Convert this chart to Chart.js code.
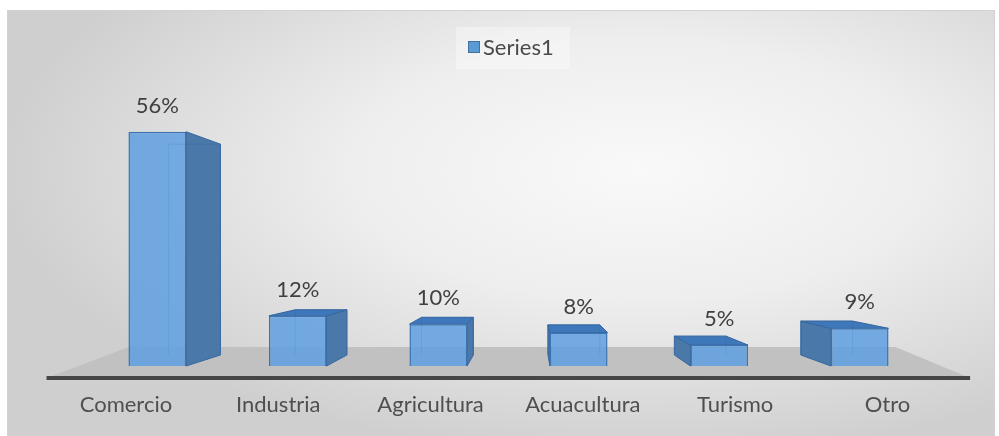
<!DOCTYPE html>
<html>
<head>
<meta charset="utf-8">
<script src="https://cdn.jsdelivr.net/npm/chart.js@4.4.1/dist/chart.umd.min.js"></script>
<style>
    html, body { margin: 0; padding: 0; background: #fff; }
    #wrap { width: 999px; height: 436px; position: relative; }
</style>
</head>
<body>
<div id="wrap"><canvas id="sectorChart"></canvas></div>
<script>
const categories = ['Comercio', 'Industria', 'Agricultura', 'Acuacultura', 'Turismo', 'Otro'];
const seriesName = 'Series1';
const seriesValues = [56, 12, 10, 8, 5, 9];
const yMin = 0;
const yMax = 60;

// perspective of the 3D look: vanishing point and depth factors (x, y)
const view = {
    vx: 530, vy: 256,
    barBack: [0.9, 0.9],
    floorFront: [1.084, 1.109],
    floorBack: [0.9, 0.827]
};

function proj(x, y, f) {
    return [view.vx + f[0] * (x - view.vx), view.vy + f[1] * (y - view.vy)];
}

function poly(ctx, pts, fill, stroke) {
    ctx.beginPath();
    pts.forEach((p, i) => i ? ctx.lineTo(p[0], p[1]) : ctx.moveTo(p[0], p[1]));
    ctx.closePath();
    if (fill) { ctx.fillStyle = fill; ctx.fill(); }
    if (stroke) { ctx.strokeStyle = stroke; ctx.stroke(); }
}

// panel background with the soft grey gradient
const panelPlugin = {
    id: 'panel',
    beforeDraw(chart) {
        const ctx = chart.ctx;
        ctx.save();
        ctx.fillStyle = '#ffffff';
        ctx.fillRect(0, 0, chart.width, chart.height);
        ctx.beginPath();
        ctx.rect(7, 10, 988, 430);
        ctx.clip();
        ctx.translate(640, 170);
        ctx.scale(1, 0.45);
        const g = ctx.createRadialGradient(0, 0, 0, 0, 0, 640);
        g.addColorStop(0, '#f9f9f9');
        g.addColorStop(0.45, '#eeeeee');
        g.addColorStop(1, '#cfcfcf');
        ctx.fillStyle = g;
        ctx.fillRect(-1400, -1400, 2800, 2800);
        ctx.restore();
        ctx.save();
        ctx.strokeStyle = '#d2d2d2';
        ctx.lineWidth = 1;
        ctx.strokeRect(7.5, 10.5, 987, 430);
        ctx.restore();
    }
};

// floor, side and top faces, value labels and legend
const box3dPlugin = {
    id: 'box3d',
    afterLayout(chart) {
        const area = chart.chartArea;
        const xl = chart.scales.xl;
        const y0 = chart.scales.y.getPixelForValue(0);
        const left = proj(area.left, y0, view.floorFront)[0];
        const right = proj(area.right, y0, view.floorFront)[0];
        const top = proj(area.left, y0, view.floorFront)[1];
        const h = xl.height;
        xl.left = left; xl.right = right; xl.width = right - left;
        xl.top = top; xl.bottom = top + h;
        xl.configure();
    },
    beforeDatasetsDraw(chart) {
        const ctx = chart.ctx, area = chart.chartArea;
        const y0 = chart.scales.y.getPixelForValue(0);
        const l = area.left - 3, r = area.right + 6;
        const ff = view.floorFront, fb = view.floorBack, bk = view.barBack;
        ctx.save();
        poly(ctx, [proj(l, y0, ff), proj(r, y0, ff), proj(r, y0, fb), proj(l, y0, fb)], '#c1c1c1');
        const a = proj(l, y0, ff), b = proj(r, y0, ff);
        ctx.lineWidth = 4;
        ctx.strokeStyle = '#464646';
        ctx.beginPath();
        ctx.moveTo(a[0], a[1]);
        ctx.lineTo(b[0], b[1]);
        ctx.stroke();

        ctx.lineWidth = 1;
        chart.getDatasetMeta(0).data.forEach(bar => {
            const {x, y, base, width} = bar.getProps(['x', 'y', 'base', 'width'], true);
            const x0 = x - width / 2, x1 = x + width / 2;
            const side = x < view.vx ? x1 : x0;
            poly(ctx, [[side, y], [side, base], proj(side, base, bk), proj(side, y, bk)], '#4a78a9', '#36679e');
            if (y > view.vy) {
                poly(ctx, [[x0, y], [x1, y], proj(x1, y, bk), proj(x0, y, bk)], '#3f77bb', '#36679e');
            }
            // back edges seen through the front face
            const p0 = proj(x0, y, bk), p1 = proj(x1, y, bk), q0 = proj(x0, base, bk), q1 = proj(x1, base, bk);
            ctx.strokeStyle = 'rgba(60,110,170,0.6)';
            ctx.beginPath();
            ctx.moveTo(q0[0], q0[1]); ctx.lineTo(p0[0], p0[1]); ctx.lineTo(p1[0], p1[1]); ctx.lineTo(q1[0], q1[1]);
            ctx.stroke();
        });
        ctx.restore();
    },
    afterDatasetsDraw(chart) {
        const ctx = chart.ctx;
        const ds = chart.data.datasets[0];
        ctx.save();
        ctx.font = '22px Lato';
        ctx.fillStyle = '#404040';
        ctx.textAlign = 'center';
        ctx.textBaseline = 'middle';
        chart.getDatasetMeta(0).data.forEach((bar, i) => {
            ctx.fillText(ds.data[i] + '%', bar.x, bar.y - 26);
        });

        // legend
        const lx = 468, ly = 47;
        ctx.fillStyle = 'rgba(255,255,255,0.35)';
        ctx.fillRect(456, 27, 114, 42);
        ctx.fillStyle = '#5b9bd5';
        ctx.strokeStyle = '#41719c';
        ctx.lineWidth = 1;
        ctx.fillRect(lx, ly - 6, 12, 12);
        ctx.strokeRect(lx + 0.5, ly - 5.5, 11, 11);
        ctx.fillStyle = '#4a4a4a';
        ctx.textAlign = 'left';
        ctx.fillText(ds.label, lx + 15, ly + 1);
        ctx.restore();
    }
};

Chart.defaults.font.family = 'Lato';

new Chart(document.getElementById('sectorChart'), {
    type: 'bar',
    data: {
        labels: categories,
        datasets: [{
            label: seriesName,
            data: seriesValues,
            xAxisID: 'x',
            yAxisID: 'y',
            backgroundColor: 'rgba(96,160,224,0.86)',
            borderColor: '#3e73b2',
            borderWidth: 1.5,
            barPercentage: 0.41,
            categoryPercentage: 1
        }]
    },
    options: {
        responsive: true,
        maintainAspectRatio: false,
        animation: false,
        layout: {
            padding: { left: 87, right: 69, top: 115, bottom: 15.6 }
        },
        plugins: {
            legend: { display: false },
            tooltip: { enabled: false }
        },
        scales: {
            x: {
                type: 'category',
                display: false,
                offset: true
            },
            xl: {
                type: 'category',
                labels: categories,
                position: 'bottom',
                offset: true,
                grid: { display: false, drawTicks: false },
                border: { display: false },
                ticks: {
                    color: '#4f4f4f',
                    font: { size: 22 },
                    padding: 14,
                    autoSkip: false,
                    maxRotation: 0
                }
            },
            y: {
                display: false,
                min: yMin,
                max: yMax
            }
        }
    },
    plugins: [panelPlugin, box3dPlugin]
});
</script>
</body>
</html>
